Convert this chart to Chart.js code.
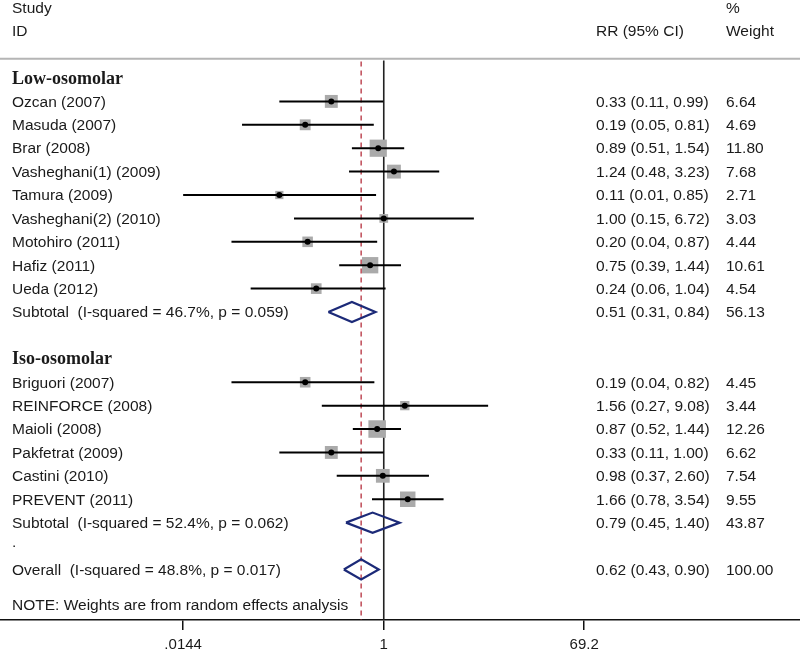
<!DOCTYPE html>
<html>
<head>
<meta charset="utf-8">
<script src="https://cdn.jsdelivr.net/npm/chart.js@4.4.1/dist/chart.umd.min.js"></script>
<style>
  html, body { margin: 0; padding: 0; background: #fff; }
  #wrap { width: 800px; height: 650px; }
</style>
</head>
<body>
<div id="wrap"><canvas id="c" width="800" height="650"></canvas></div>
<script>
// ---------- data ----------
const studies = ['Ozcan (2007)', 'Masuda (2007)', 'Brar (2008)', 'Vasheghani(1) (2009)', 'Tamura (2009)',
  'Vasheghani(2) (2010)', 'Motohiro (2011)', 'Hafiz (2011)', 'Ueda (2012)',
  'Briguori (2007)', 'REINFORCE (2008)', 'Maioli (2008)', 'Pakfetrat (2009)', 'Castini (2010)', 'PREVENT (2011)'];
const studyRows = [1, 2, 3, 4, 5, 6, 7, 8, 9, 13, 14, 15, 16, 17, 18];
const rr      = [0.33, 0.19, 0.89, 1.24, 0.11, 1.00, 0.20, 0.75, 0.24, 0.19, 1.56, 0.87, 0.33, 0.98, 1.66];
const ciLow   = [0.11, 0.05, 0.51, 0.48, 0.0144, 0.15, 0.04, 0.39, 0.06, 0.04, 0.27, 0.52, 0.11, 0.37, 0.78];
const ciHigh  = [0.99, 0.81, 1.54, 3.23, 0.85, 6.72, 0.87, 1.44, 1.04, 0.82, 9.08, 1.44, 1.00, 2.60, 3.54];
const weights = [6.64, 4.69, 11.80, 7.68, 2.71, 3.03, 4.44, 10.61, 4.54, 4.45, 3.44, 12.26, 6.62, 7.54, 9.55];

const groupNames = ['Low-osomolar', 'Iso-osomolar'];
const groupRows = [0, 12];

const pooledLabels = ['Subtotal  (I-squared = 46.7%, p = 0.059)', 'Subtotal  (I-squared = 52.4%, p = 0.062)', 'Overall  (I-squared = 48.8%, p = 0.017)'];
const pooledRows = [10, 19, 21];
const pooledRR   = [0.51, 0.79, 0.62];
const pooledLow  = [0.31, 0.45, 0.43];
const pooledHigh = [0.84, 1.40, 0.90];
const pooledWeights = [56.13, 43.87, 100.00];

const tickValues = [0.0144, 1, 69.2];
const tickLabels = ['.0144', '1', '69.2'];

const headerLeft = ['Study', 'ID'];
const headerRR = 'RR (95% CI)';
const headerWeight = ['%', 'Weight'];
const noteText = 'NOTE: Weights are from random effects analysis';

// ---------- layout / style ----------
const ROW_TOP = -3.333, ROW_BOTTOM = 23.16;
const PX_DEC = 109, ONE_PX = 383.5;
const X_MIN = Math.pow(10, -ONE_PX / PX_DEC), X_MAX = Math.pow(10, (800 - ONE_PX) / PX_DEC);
const SANS = '"Liberation Sans", Arial, sans-serif';
const SERIF = '"Liberation Serif", "Times New Roman", serif';
const TXT = '#1a1a1a';
const NAVY = '#1c2a78';

const datasets = [];
// reference lines
datasets.push({ type: 'scatter', showLine: true, data: [{x: 1, y: -0.75}, {x: 1, y: ROW_BOTTOM}],
  borderColor: '#222', borderWidth: 1.6, pointRadius: 0, order: 50 });
datasets.push({ type: 'scatter', showLine: true, data: [{x: pooledRR[2], y: -0.7}, {x: pooledRR[2], y: ROW_BOTTOM}],
  borderColor: '#b52f3d', borderWidth: 1.3, borderDash: [5, 4], pointRadius: 0, order: 49 });
// weight squares
datasets.push({ type: 'scatter', data: rr.map((v, i) => ({x: v, y: studyRows[i]})),
  pointStyle: 'rect', pointRadius: ctx => 3.54 * Math.sqrt(weights[ctx.dataIndex] || 0),
  backgroundColor: '#aaaaaa', borderWidth: 0, order: 40 });
// CI lines
rr.forEach((v, i) => {
  datasets.push({ type: 'scatter', showLine: true,
    data: [{x: ciLow[i], y: studyRows[i]}, {x: ciHigh[i], y: studyRows[i]}],
    borderColor: '#000', borderWidth: 2, pointRadius: 0, order: 30 });
});
// centre dots
datasets.push({ type: 'scatter', data: rr.map((v, i) => ({x: v, y: studyRows[i]})),
  pointStyle: 'circle', pointRadius: 3, backgroundColor: '#000', borderWidth: 0, order: 20 });
// diamonds
const H = 0.43;
pooledRR.forEach((v, i) => {
  const r = pooledRows[i];
  datasets.push({ type: 'scatter', showLine: true,
    data: [{x: pooledLow[i], y: r}, {x: v, y: r - H}, {x: pooledHigh[i], y: r}, {x: v, y: r + H}, {x: pooledLow[i], y: r}],
    borderColor: NAVY, borderWidth: 2.2, pointRadius: 0, tension: 0, borderJoinStyle: 'miter', order: 10 });
});

const textPlugin = {
  id: 'forestText',
  beforeDatasetsDraw(chart) {
    const c = chart.ctx, y = chart.scales.y, a = chart.chartArea;
    c.save();
    c.strokeStyle = '#b5b5b5';
    c.lineWidth = 2;
    c.beginPath();
    const yy = y.getPixelForValue(-0.82);
    c.moveTo(a.left, yy); c.lineTo(a.right, yy);
    c.stroke();
    c.restore();
  },
  afterDraw(chart) {
    const c = chart.ctx, y = chart.scales.y;
    const py = r => y.getPixelForValue(r) + 1;
    c.save();
    c.fillStyle = TXT;
    c.textBaseline = 'middle';
    c.textAlign = 'left';
    c.font = '15.5px ' + SANS;
    const XL = 12, XR = 596, XW = 726;
    // headers
    c.fillText(headerLeft[0], XL, py(-3));
    c.fillText(headerLeft[1], XL, py(-2));
    c.fillText(headerRR, XR, py(-2));
    c.fillText(headerWeight[0], XW, py(-3));
    c.fillText(headerWeight[1], XW, py(-2));
    // studies
    studies.forEach((s, i) => {
      const yy = py(studyRows[i]);
      c.fillText(s, XL, yy);
      c.fillText(rr[i].toFixed(2) + ' (' + ciLow[i].toFixed(2) + ', ' + ciHigh[i].toFixed(2) + ')', XR, yy);
      c.fillText(weights[i].toFixed(2), XW, yy);
    });
    // pooled
    pooledLabels.forEach((s, i) => {
      const yy = py(pooledRows[i]);
      c.fillText(s, XL, yy);
      c.fillText(pooledRR[i].toFixed(2) + ' (' + pooledLow[i].toFixed(2) + ', ' + pooledHigh[i].toFixed(2) + ')', XR, yy);
      c.fillText(pooledWeights[i].toFixed(2), XW, yy);
    });
    c.fillText('.', XL, py(20) - 4);
    c.fillText(noteText, XL, py(22.5));
    // group headings
    c.font = 'bold 18px ' + SERIF;
    groupNames.forEach((g, i) => c.fillText(g, XL, py(groupRows[i])));
    c.restore();
  }
};

new Chart(document.getElementById('c'), {
  type: 'scatter',
  data: { datasets },
  options: {
    responsive: false,
    animation: false,
    layout: { padding: 0, autoPadding: false },
    plugins: { legend: { display: false }, tooltip: { enabled: false } },
    scales: {
      x: {
        type: 'logarithmic', min: X_MIN, max: X_MAX, position: 'bottom',
        afterBuildTicks: s => { s.ticks = tickValues.map(v => ({ value: v })); },
        afterFit: s => { s.height = 30; },
        ticks: { autoSkip: false, maxRotation: 0, color: TXT, padding: 6,
          font: { family: SANS, size: 15 },
          callback: (v, i) => tickLabels[i] },
        grid: { drawOnChartArea: false, drawTicks: true, tickLength: 10, color: '#111', lineWidth: 1.5 },
        border: { display: true, color: '#111', width: 1.5 }
      },
      y: { type: 'linear', display: false, reverse: true, min: ROW_TOP, max: ROW_BOTTOM }
    }
  },
  plugins: [textPlugin]
});
</script>
</body>
</html>
